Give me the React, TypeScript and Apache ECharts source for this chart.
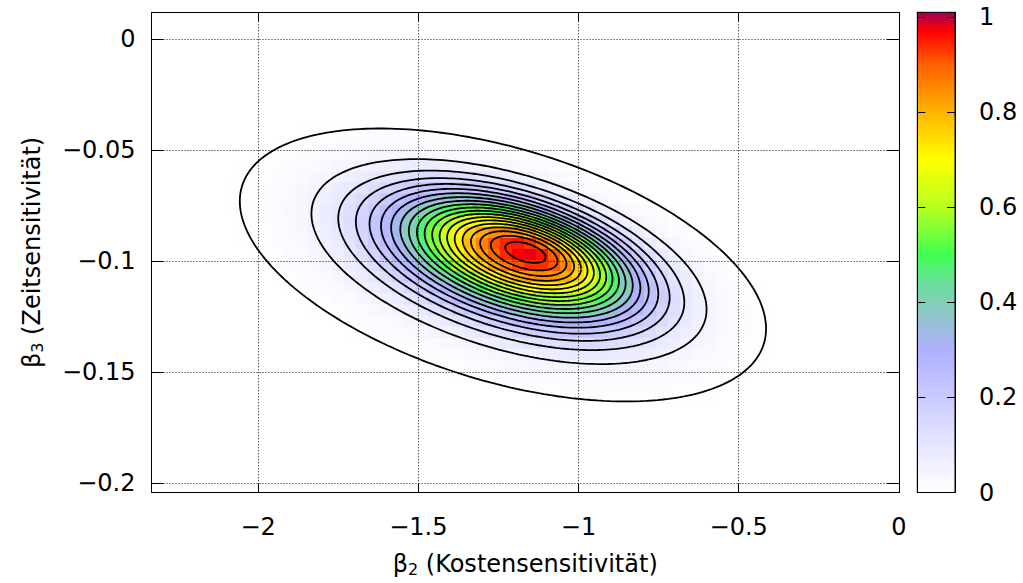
import React, { useEffect, useRef } from "react";
import * as echarts from "echarts";

// Axis ranges
const X_RANGE = [-2.333, 0];
const Y_RANGE = [-0.2043, 0.012];
const CB_RANGE = [0, 1.01];

// Contour levels (outermost first)
const CONTOUR_LEVELS = [
  0.005, 0.05, 0.1, 0.15, 0.2, 0.25, 0.3, 0.35, 0.4, 0.45, 0.5, 0.55, 0.6, 0.65,
  0.7, 0.75, 0.8, 0.85, 0.9, 0.95,
];

// Density surface: mode, drift of the contour centres
// per unit radius, spreads (beta2, beta3) and correlation
const DENSITY_PEAK = 0.98;
const DENSITY_MODE = [-1.16, -0.0957];
const DENSITY_DRIFT = [-0.0234, -0.00188];
const DENSITY_SPREAD = [0.2528, 0.01892];
const DENSITY_CORRELATION = -0.467;
const SAMPLE_STEP = [0.0375, 0.005];

// Colour palette of the colour box (value, colour)
const PALETTE: [number, string][] = [
  [0, "#ffffff"],
  [0.1, "#e6e6ff"],
  [0.2, "#cacaff"],
  [0.3, "#b0b0ff"],
  [0.37, "#92c4cc"],
  [0.44, "#6ade9c"],
  [0.5, "#40ff50"],
  [0.6, "#b8ff20"],
  [0.7, "#ffff00"],
  [0.8, "#ffb400"],
  [0.9, "#ff6000"],
  [0.97, "#ff0000"],
  [1.01, "#a0005a"],
];

const FONT = "DejaVu Sans";
const FS = 24;

function hexRgb(h: string): number[] {
  return [1, 3, 5].map((i) => parseInt(h.slice(i, i + 2), 16));
}

function colorAt(v: number): string {
  const t = Math.max(CB_RANGE[0], Math.min(CB_RANGE[1], v));
  for (let i = 1; i < PALETTE.length; i++) {
    if (t <= PALETTE[i][0]) {
      const [v0, c0] = PALETTE[i - 1];
      const [v1, c1] = PALETTE[i];
      const f = (t - v0) / (v1 - v0);
      const a = hexRgb(c0);
      const b = hexRgb(c1);
      const c = a.map((x, k) => Math.round(x + (b[k] - x) * f));
      return `rgb(${c[0]},${c[1]},${c[2]})`;
    }
  }
  return PALETTE[PALETTE.length - 1][1];
}

const [SX, SY] = DENSITY_SPREAD;
const RHO = DENSITY_CORRELATION;
const S1 = Math.sqrt(1 - RHO * RHO);

function whiten(dx: number, dy: number): number[] {
  const a = dx / SX;
  const b = (dy - RHO * SY * a) / (SY * S1);
  return [a, b];
}

function density(x: number, y: number): number {
  const u = whiten(x - DENSITY_MODE[0], y - DENSITY_MODE[1]);
  const v = whiten(DENSITY_DRIFT[0], DENSITY_DRIFT[1]);
  const A = 1 - (v[0] * v[0] + v[1] * v[1]);
  const B = u[0] * v[0] + u[1] * v[1];
  const C = u[0] * u[0] + u[1] * u[1];
  const r = (-B + Math.sqrt(B * B + A * C)) / A;
  return DENSITY_PEAK * Math.exp(-0.5 * r * r);
}

function contour(level: number): number[][] {
  const r = Math.sqrt(2 * Math.log(DENSITY_PEAK / level));
  const cx = DENSITY_MODE[0] + DENSITY_DRIFT[0] * r;
  const cy = DENSITY_MODE[1] + DENSITY_DRIFT[1] * r;
  const pts: number[][] = [];
  const n = 240;
  for (let i = 0; i <= n; i++) {
    const t = (i / n) * Math.PI * 2;
    pts.push([
      cx + r * SX * Math.cos(t),
      cy + r * (RHO * SY * Math.cos(t) + SY * S1 * Math.sin(t)),
    ]);
  }
  return pts;
}

function heatCells(): number[][] {
  const out: number[][] = [];
  const [dx, dy] = SAMPLE_STEP;
  for (let y = Y_RANGE[0] + dy / 2; y < Y_RANGE[1] + dy; y += dy) {
    for (let x = X_RANGE[0] + dx / 2; x < X_RANGE[1] + dx; x += dx) {
      const v = density(x, y);
      if (v > 0.003) out.push([x, y, v]);
    }
  }
  return out;
}

function fmtNum(v: number): string {
  const s = String(+v.toFixed(4));
  return s.replace("-", "\u2212");
}

function stepFormatter(step: number) {
  return (v: number) => {
    const k = Math.round(v / step);
    if (Math.abs(v - k * step) > 1e-9) return "";
    return fmtNum(k * step);
  };
}

const labelStyle = { fontFamily: FONT, fontSize: FS, color: "#000" };
const blackLine = { color: "#000", width: 1 };
const gridDots = { color: "#111", width: 1, type: [1, 2] as any };
const subRich = {
  s: { fontFamily: FONT, fontSize: 16, color: "#000", padding: [12, 0, 0, 0] },
};

export default function App() {
  const ref = useRef<HTMLDivElement>(null);
  useEffect(() => {
    if (!ref.current) return;
    const chart = echarts.init(ref.current, undefined, { renderer: "svg" });
    const [hx, hy] = [SAMPLE_STEP[0] / 2, SAMPLE_STEP[1] / 2];
    const stops = PALETTE.map(([v, c]) => ({
      offset: 1 - v / CB_RANGE[1],
      color: c,
    })).reverse();

    const contourSeries = CONTOUR_LEVELS.map((lv) => ({
      type: "line",
      xAxisIndex: 0,
      yAxisIndex: 0,
      data: contour(lv),
      showSymbol: false,
      symbol: "none",
      smooth: false,
      silent: true,
      clip: true,
      z: 5,
      lineStyle: { color: "#000", width: 1.8 },
    }));

    chart.setOption({
      animation: false,
      backgroundColor: "#fff",
      grid: [
        { left: 151.5, top: 12.3, width: 747.4, height: 480.2, show: false },
        { left: 917.3, top: 12.3, width: 37.7, height: 480.2, show: false },
      ],
      xAxis: [
        {
          gridIndex: 0,
          type: "value",
          min: X_RANGE[0],
          max: X_RANGE[1],
          position: "bottom",
          z: 10,
          axisLine: { show: true, onZero: false, lineStyle: blackLine },
          axisTick: { show: true, inside: true, length: 9, lineStyle: blackLine },
          axisLabel: {
            ...labelStyle,
            margin: 22,
            formatter: stepFormatter(0.5),
          },
          splitLine: { show: true, lineStyle: gridDots },
          name: "\u03b2{s|2} (Kostensensitivit\u00e4t)",
          nameLocation: "middle",
          nameGap: 57,
          nameTextStyle: { ...labelStyle, rich: subRich },
        },
        {
          gridIndex: 0,
          type: "value",
          min: X_RANGE[0],
          max: X_RANGE[1],
          position: "top",
          z: 10,
          axisLine: { show: true, onZero: false, lineStyle: blackLine },
          axisTick: { show: true, inside: true, length: 9, lineStyle: blackLine },
          axisLabel: { show: false },
          splitLine: { show: false },
        },
        {
          gridIndex: 1,
          type: "value",
          min: 0,
          max: 1,
          show: false,
        },
      ],
      yAxis: [
        {
          gridIndex: 0,
          type: "value",
          min: Y_RANGE[0],
          max: Y_RANGE[1],
          position: "left",
          z: 10,
          axisLine: { show: true, onZero: false, lineStyle: blackLine },
          axisTick: { show: true, inside: true, length: 12, lineStyle: blackLine },
          axisLabel: {
            ...labelStyle,
            margin: 16,
            formatter: stepFormatter(0.05),
          },
          splitLine: { show: true, lineStyle: gridDots },
          name: "\u03b2{s|3} (Zeitsensitivit\u00e4t)",
          nameLocation: "middle",
          nameGap: 106,
          nameRotate: 90,
          nameTextStyle: { ...labelStyle, rich: subRich },
        },
        {
          gridIndex: 0,
          type: "value",
          min: Y_RANGE[0],
          max: Y_RANGE[1],
          position: "right",
          z: 10,
          axisLine: { show: true, onZero: false, lineStyle: blackLine },
          axisTick: { show: true, inside: true, length: 12, lineStyle: blackLine },
          axisLabel: { show: false },
          splitLine: { show: false },
        },
        {
          gridIndex: 1,
          type: "value",
          min: CB_RANGE[0],
          max: CB_RANGE[1],
          position: "right",
          z: 10,
          axisLine: { show: true, onZero: false, lineStyle: blackLine },
          axisTick: { show: true, inside: true, length: 8, lineStyle: blackLine },
          axisLabel: {
            ...labelStyle,
            margin: 24,
            formatter: stepFormatter(0.2),
          },
          splitLine: { show: false },
        },
        {
          gridIndex: 1,
          type: "value",
          min: CB_RANGE[0],
          max: CB_RANGE[1],
          position: "left",
          z: 10,
          axisLine: { show: true, onZero: false, lineStyle: blackLine },
          axisTick: { show: true, inside: true, length: 8, lineStyle: blackLine },
          axisLabel: { show: false },
          splitLine: { show: false },
        },
      ],
      series: [
        {
          type: "custom",
          xAxisIndex: 0,
          yAxisIndex: 0,
          clip: true,
          silent: true,
          z: 1,
          progressive: 0,
          dimensions: ["x", "y", "v"],
          encode: { x: 0, y: 1 },
          data: heatCells(),
          renderItem: (_p: any, api: any) => {
            const x = api.value(0);
            const y = api.value(1);
            const v = api.value(2);
            const p0 = api.coord([x - hx, y + hy]);
            const p1 = api.coord([x + hx, y - hy]);
            return {
              type: "rect",
              shape: {
                x: p0[0],
                y: p0[1],
                width: p1[0] - p0[0] + 0.6,
                height: p1[1] - p0[1] + 0.6,
              },
              style: { fill: colorAt(v), stroke: null },
            };
          },
        },
        ...contourSeries,
        {
          type: "custom",
          xAxisIndex: 2,
          yAxisIndex: 2,
          silent: true,
          z: 1,
          data: [[0, 0]],
          renderItem: (_p: any, api: any) => {
            const p0 = api.coord([0, CB_RANGE[1]]);
            const p1 = api.coord([1, CB_RANGE[0]]);
            return {
              type: "rect",
              shape: { x: p0[0], y: p0[1], width: p1[0] - p0[0], height: p1[1] - p0[1] },
              style: {
                fill: new echarts.graphic.LinearGradient(0, 0, 0, 1, stops),
                stroke: "#000",
                lineWidth: 1,
              },
            };
          },
        },
      ],
    });
    return () => chart.dispose();
  }, []);
  return (
    <div
      ref={ref}
      style={{ position: "fixed", left: 0, top: 0, width: 1023, height: 583 }}
    />
  );
}
